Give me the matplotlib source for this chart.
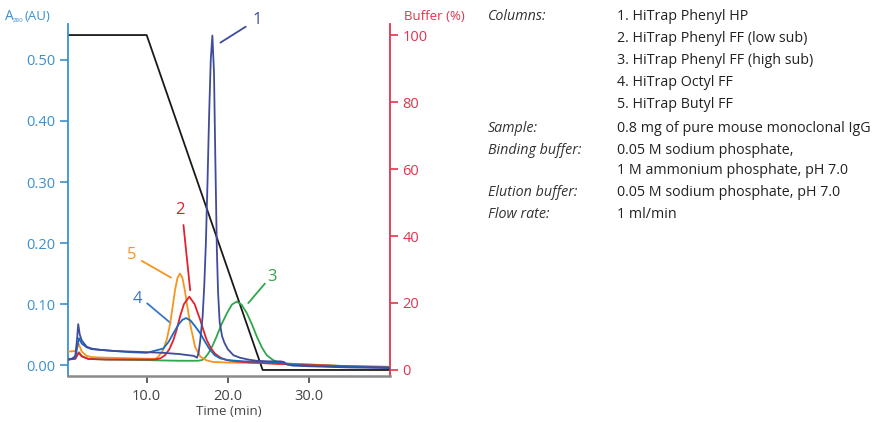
import matplotlib
matplotlib.use("Agg")
import matplotlib.pyplot as plt

plt.rcParams['font.family'] = ['Open Sans', 'DejaVu Sans']

# ---------------- data ----------------
t1 = [0.3, 0.8, 1.2, 1.4, 1.56, 1.75, 2.0, 2.6, 3.2, 4.2, 6, 8, 10, 12, 14, 15.2, 15.8, 16.2,
      16.4, 16.6, 16.9, 17.1, 17.3, 17.5, 17.7, 17.9, 18.1, 18.3, 18.45, 18.55, 18.65, 18.8,
      19.0, 19.3, 19.6, 20.0, 20.7, 21.5, 22.5, 23.5, 25, 26.5, 26.9, 27.3, 28, 30, 35, 40]
a1 = [0.009, 0.010, 0.015, 0.040, 0.067, 0.050, 0.040, 0.030, 0.027, 0.025, 0.023, 0.022,
      0.021, 0.020, 0.018, 0.016, 0.015, 0.012,
      0.020, 0.040, 0.080, 0.130, 0.200, 0.300, 0.410, 0.500, 0.540, 0.480, 0.350, 0.270,
      0.190, 0.120, 0.070, 0.047, 0.036, 0.026, 0.016, 0.012, 0.009, 0.007, 0.006, 0.006,
      0.005, 0.001, -0.001, -0.002, -0.004, -0.005]

t2 = [0.3, 1.2, 1.6, 2.0, 2.8, 5, 8, 11, 11.7, 12.26, 12.8, 13.3, 13.7, 14.1, 14.6, 15.26,
      15.9, 16.6, 17.0, 17.4, 17.9, 18.4, 19.1, 19.9, 21, 23, 26, 30, 35, 40]
a2 = [0.009, 0.010, 0.020, 0.014, 0.010, 0.009, 0.009, 0.009, 0.011, 0.016, 0.026, 0.041,
      0.058, 0.079, 0.100, 0.112, 0.100, 0.074, 0.057, 0.041, 0.028, 0.019, 0.012, 0.008,
      0.006, 0.004, 0.002, 0.000, -0.002, -0.004]

t3 = [0.3, 1.2, 1.65, 2.0, 2.8, 5, 10, 14, 16.3, 16.8, 17.2, 17.6, 18.1, 18.6, 19.2, 19.9,
      20.5, 21.1, 21.7, 22.35, 23.0, 23.6, 24.2, 24.8, 25.6, 26.5, 28, 30, 35, 40]
a3 = [0.009, 0.011, 0.021, 0.015, 0.010, 0.009, 0.008, 0.007, 0.007, 0.008, 0.012, 0.019,
      0.031, 0.046, 0.066, 0.085, 0.099, 0.104, 0.099, 0.085, 0.066, 0.046, 0.029, 0.016,
      0.008, 0.003, 0.002, 0.001, -0.002, -0.003]

t4 = [0.3, 1.2, 1.65, 2.0, 2.6, 3.2, 5, 8, 10, 12.05, 12.7, 13.3, 13.9, 14.4, 14.85, 15.4,
      16.0, 16.6, 17.2, 17.8, 18.4, 19.05, 20, 22, 25, 26.9, 27.3, 30, 35, 40]
a4 = [0.009, 0.012, 0.044, 0.035, 0.029, 0.026, 0.024, 0.021, 0.020, 0.027, 0.038, 0.052,
      0.066, 0.074, 0.077, 0.073, 0.063, 0.052, 0.038, 0.025, 0.016, 0.011, 0.008, 0.006,
      0.005, 0.004, 0.001, -0.001, -0.003, -0.004]

t5 = [0.3, 1.2, 1.6, 2.0, 2.6, 3.2, 5, 8, 11, 11.4, 12.05, 12.5, 12.9, 13.5, 13.8, 14.1,
      14.4, 14.7, 15.0, 15.35, 15.96, 16.6, 17.3, 18.2, 20, 25, 30, 35, 40]
a5 = [0.022, 0.023, 0.035, 0.022, 0.015, 0.013, 0.012, 0.011, 0.010, 0.013, 0.025, 0.043,
      0.068, 0.123, 0.143, 0.150, 0.143, 0.123, 0.097, 0.068, 0.030, 0.014, 0.008, 0.005,
      0.004, 0.003, 0.000, -0.002, -0.003]

t_grad = [0.3, 10.0, 24.3, 40.0]
b_grad = [100, 100, 0, 0]

y_ticks = [0.00, 0.10, 0.20, 0.30, 0.40, 0.50]
y_ticklabels = ["0.00", "0.10", "0.20", "0.30", "0.40", "0.50"]
x_ticks = [10, 20, 30]
x_ticklabels = ["10.0", "20.0", "30.0"]
b_ticks = [0, 20, 40, 60, 80, 100]

info_labels = ["Columns:", "", "", "", "", "Sample:", "Binding buffer:", "", "Elution buffer:", "Flow rate:"]
info_values = ["1. HiTrap Phenyl HP", "2. HiTrap Phenyl FF (low sub)", "3. HiTrap Phenyl FF (high sub)",
               "4. HiTrap Octyl FF", "5. HiTrap Butyl FF", "0.8 mg of pure mouse monoclonal IgG",
               "0.05 M sodium phosphate,", "1 M ammonium phosphate, pH 7.0",
               "0.05 M sodium phosphate, pH 7.0", "1 ml/min"]

# ---------------- style ----------------
BLUE_AX = "#3a90d0"
RED_AX = "#e2334f"
C1 = "#3f4c9c"
C2 = "#e4202e"
C3 = "#2ea84a"
C4 = "#1a6cc0"
C5 = "#f7941d"
GRAY = "#444444"

W, H = 877, 422
fig = plt.figure(figsize=(W / 100, H / 100), dpi=100)
ax = fig.add_axes([68 / W, (H - 376) / H, (390 - 68) / W, (376 - 24) / H])
ax.set_xlim(0.3, 40.0)
ax.set_ylim(-0.018, 0.559)

lw = 1.3
ax.plot(t3, a3, color=C3, lw=lw, zorder=3)
ax.plot(t5, a5, color=C5, lw=lw, zorder=4)
ax.plot(t2, a2, color=C2, lw=lw, zorder=5)
ax.plot(t4, a4, color=C4, lw=lw, zorder=6)
ax.plot(t1, a1, color=C1, lw=lw, zorder=7)

ax2 = ax.twinx()
ax2.set_ylim(-1.8, 103.3)
ax2.plot(t_grad, b_grad, color="#1a1a1a", lw=1.3, zorder=2)
ax.set_zorder(ax2.get_zorder() + 1)
ax.patch.set_visible(False)

# spines
for s in ["top", "right"]:
    ax.spines[s].set_visible(False)
for s in ["top", "left", "bottom"]:
    ax2.spines[s].set_visible(False)
ax.spines["left"].set_color(BLUE_AX)
ax.spines["left"].set_linewidth(1.3)
ax.spines["bottom"].set_color("#8a8a8a")
ax.spines["bottom"].set_linewidth(1.8)
ax2.spines["right"].set_color(RED_AX)
ax2.spines["right"].set_linewidth(1.3)

ax.set_yticks(y_ticks)
ax.set_yticklabels(y_ticklabels)
ax.tick_params(axis="y", colors=BLUE_AX, labelcolor=BLUE_AX, labelsize=10.5, length=6, width=1.2, pad=3)
ax.set_xticks(x_ticks)
ax.set_xticklabels(x_ticklabels)
ax.tick_params(axis="x", colors=GRAY, labelcolor=GRAY, labelsize=10.5, length=5, width=1.2, pad=4)
ax2.set_yticks(b_ticks)
ax2.tick_params(axis="y", colors=RED_AX, labelcolor=RED_AX, labelsize=10.5, length=6, width=1.2, pad=3)

ax.set_xlabel("Time (min)", color=GRAY, fontsize=9.5, labelpad=1)

fig.text(5 / W, 1 - 17 / H, "A", color=BLUE_AX, fontsize=10, va="center", ha="left")
fig.text(13 / W, 1 - 21 / H, "280", color=BLUE_AX, fontsize=4.5, va="center", ha="left")
fig.text(24.5 / W, 1 - 17 / H, "(AU)", color=BLUE_AX, fontsize=9.5, va="center", ha="left")
fig.text(404 / W, 1 - 17 / H, "Buffer (%)", color=RED_AX, fontsize=9.5, va="center", ha="left")

# peak labels with leader lines (data coords)
labels = [
    ("1", C1, (23.6, 0.565), (18.8, 0.526), (22.5, 0.557)),
    ("2", C2, (14.1, 0.254), (14.5, 0.234), (15.4, 0.118)),
    ("3", C3, (25.4, 0.144), (24.8, 0.137), (22.3, 0.098)),
    ("4", "#3a78c8", (8.8, 0.109), (9.8, 0.104), (13.2, 0.066)),
    ("5", C5, (8.1, 0.181), (9.1, 0.173), (13.3, 0.141)),
]
for txt, col, tpos, p0, p1 in labels:
    ax.annotate("", xy=p1, xytext=p0,
                arrowprops=dict(arrowstyle="-", color=col, lw=1.3), annotation_clip=False)
    ax.text(tpos[0], tpos[1], txt, color=col, fontsize=12, ha="center", va="center", clip_on=False)

# info block
rows_y = [17, 39, 60, 82, 104, 128, 150, 171, 193, 214]
for lab, val, y in zip(info_labels, info_values, rows_y):
    if lab:
        fig.text(488 / W, 1 - y / H, lab, fontsize=10.3, style="italic", color="#333333", va="center", ha="left")
    fig.text(617 / W, 1 - y / H, val, fontsize=10.3, color="#222222", va="center", ha="left")

fig.savefig("out.png", dpi=100)
